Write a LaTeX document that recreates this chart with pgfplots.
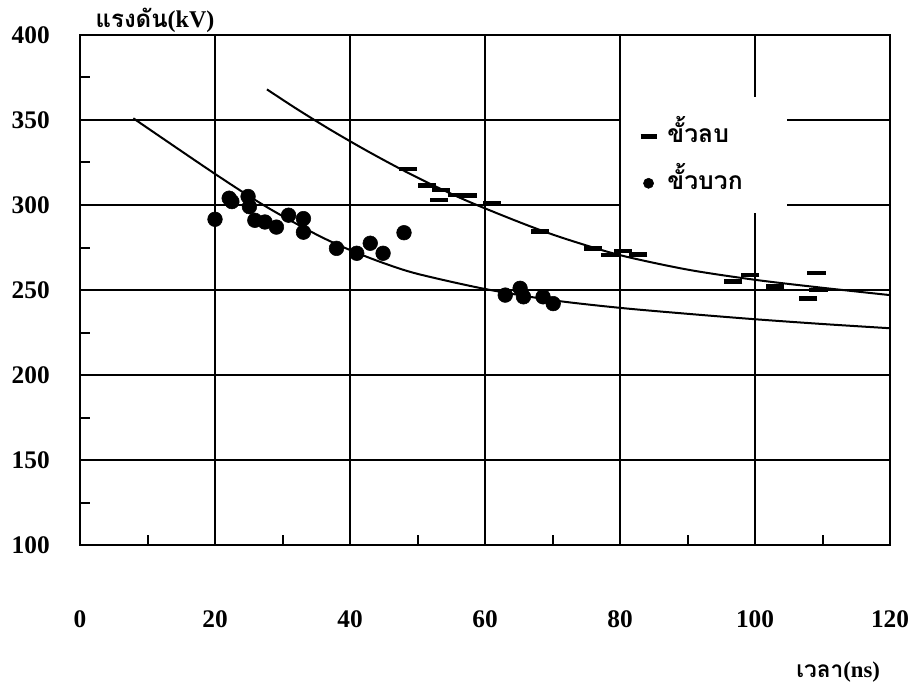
\documentclass[border=0pt]{standalone}
\usepackage{fontspec}
\setmainfont{Liberation Serif}
\newfontfamily\thaifont[Script=Thai]{Loma}
\usepackage{pgfplots}
\pgfplotsset{compat=1.18}
\begin{document}
\begin{tikzpicture}
\path[use as bounding box] (-60pt,-108pt) rectangle (627.75pt,408.75pt);
\begin{axis}[
  at={(0,0)}, anchor=south west, scale only axis,
  width=607.5pt, height=382.5pt,
  xmin=0, xmax=120, ymin=100, ymax=400,
  xtick={0,20,...,120}, ytick={100,150,...,400},
  minor xtick={10,30,...,110}, minor ytick={125,175,...,375},
  tick pos=left, tick align=inside,
  major tick length=0pt, minor tick length=7.5pt,
  tick style={black, line width=1.5pt},
  grid=major,
  x grid style={black, line width=1pt},
  y grid style={black, line width=1.4pt},
  axis line style={black, line width=2pt},
  /pgf/number format/assume math mode=true,
  ticklabel style={font=\bfseries\fontsize{19}{19}\selectfont, inner sep=0pt},
  xticklabel style={anchor=center, yshift=-55.5pt},
  yticklabel style={anchor=east, xshift=-22.5pt},
  xlabel={{\thaifont\bfseries เวลา}(ns)},
  ylabel={{\thaifont\bfseries แรงดัน}(kV)},
  every axis x label/.style={at={(rel axis cs:0.936,0)}, anchor=center, yshift=-95pt,
     font=\bfseries\fontsize{17}{17}\selectfont},
  every axis y label/.style={at={(rel axis cs:0.0926,1)}, anchor=center, yshift=11pt,
     font=\bfseries\fontsize{18}{18}\selectfont},
  legend style={draw=none, fill=none, at={(0.689,0.755)}, anchor=west,
     inner sep=0pt, row sep=20pt,
     font=\thaifont\bfseries\fontsize{18.5}{18.5}\selectfont,
     nodes={inner sep=0pt, text height=12pt, text depth=3pt}},
  legend cell align=left,
]
\fill[white] (axis cs:80.2,363.5) rectangle (axis cs:104.7,295.3);

% upper fitted curve (negative)
\addplot[black, line width=1.5pt, smooth, forget plot] coordinates {
(27.7,368) (32,356.8) (37,344.5) (42,333) (47,322.2) (52,312.2) (57,303)
(62,294.8) (67,287) (72,280) (80,270.5) (90,262) (100,256) (110,251.3) (120,247)};
% lower fitted curve (positive)
\addplot[black, line width=1.5pt, smooth, forget plot] coordinates {
(7.9,351) (20,318.3) (27.5,299.2) (35,282.7) (40,273.5) (45,265.8) (50,259.5)
(60,250.6) (70,244) (80,239.5) (90,236) (100,232.8) (110,230) (120,227.5)};

% negative polarity
\addplot[only marks, mark=-, mark size=6.8pt, mark options={line width=3.3pt, black},
  legend image code/.code={\draw[black, line width=3.3pt] (0pt,0pt) -- (12pt,0pt);
     \path (20pt,0pt);}]
coordinates {
(48.6,321) (51.4,311.5) (53.5,309) (53.2,303) (55.8,306) (57.5,305.5) (61,301)
(68.1,284.5) (76,274.5) (78.5,270.6) (80.5,273) (82.7,271)
(96.8,255) (99.3,259) (103,252) (109.1,260) (109.4,250) (107.9,245)};
\addlegendentry{ขั้วลบ}

% positive polarity
\addplot[only marks, mark=*, mark size=5.5pt, mark options={black, fill=black},
  legend image code/.code={\fill[black] (6pt,0pt) circle (3.8pt);
     \path (20pt,0pt);}]
coordinates {
(20,291.6) (22.1,304) (22.5,302) (24.9,305) (25.1,299) (25.9,291) (27.4,290)
(29.1,287) (30.9,294) (33.1,292) (33.1,284) (38,274.5) (41,271.6) (43,277.5)
(44.9,271.6) (48,283.7)
(63,247) (65.2,251) (65.7,246) (68.6,246) (70.1,242)};
\addlegendentry{ขั้วบวก}
\end{axis}
\end{tikzpicture}
\end{document}
